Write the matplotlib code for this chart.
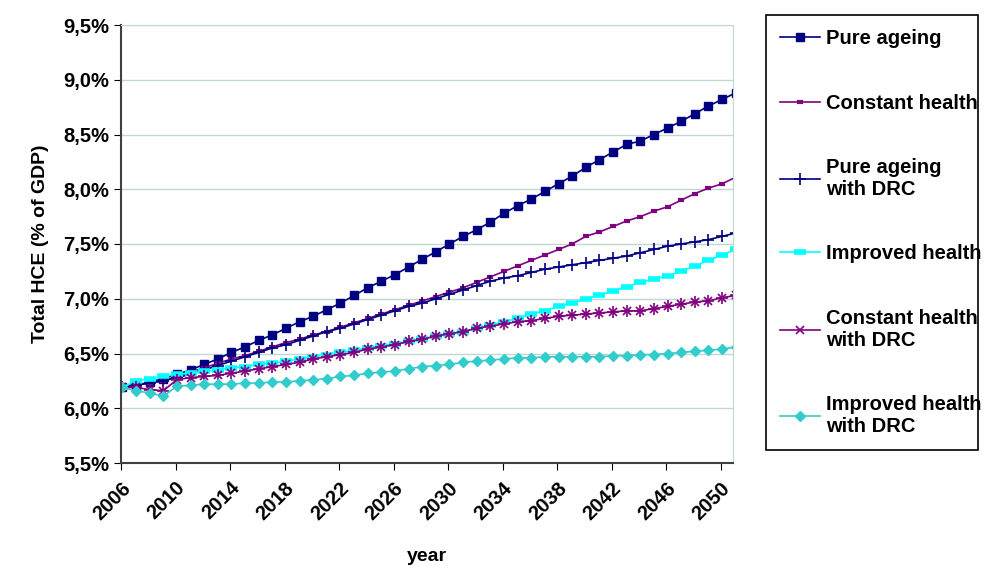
import matplotlib.pyplot as plt
import numpy as np
from matplotlib.ticker import FuncFormatter

plt.rcParams["font.family"] = ["Liberation Sans", "DejaVu Sans"]

years = list(range(2006, 2052))

pure_ageing = [6.19, 6.21, 6.24, 6.27, 6.31, 6.35, 6.40, 6.45, 6.51, 6.56, 6.62, 6.67, 6.73, 6.79, 6.84, 6.90,
               6.96, 7.03, 7.10, 7.16, 7.22, 7.29, 7.36, 7.43, 7.50, 7.57, 7.63, 7.70, 7.78, 7.85, 7.91, 7.98,
               8.05, 8.12, 8.20, 8.27, 8.34, 8.41, 8.44, 8.50, 8.56, 8.62, 8.69, 8.76, 8.82, 8.88]
constant_health = [6.19, 6.21, 6.23, 6.25, 6.29, 6.33, 6.37, 6.41, 6.45, 6.48, 6.52, 6.56, 6.60, 6.63, 6.67,
                   6.70, 6.74, 6.78, 6.82, 6.86, 6.90, 6.94, 6.98, 7.02, 7.06, 7.10, 7.15, 7.20, 7.25, 7.30,
                   7.35, 7.40, 7.45, 7.50, 7.57, 7.61, 7.66, 7.71, 7.75, 7.80, 7.84, 7.90, 7.96, 8.01, 8.05, 8.11]
pure_ageing_drc = [6.19, 6.21, 6.23, 6.25, 6.28, 6.31, 6.35, 6.39, 6.43, 6.47, 6.51, 6.55, 6.58, 6.62, 6.66,
                   6.70, 6.73, 6.77, 6.81, 6.85, 6.89, 6.93, 6.96, 7.00, 7.04, 7.08, 7.12, 7.16, 7.19, 7.21,
                   7.24, 7.27, 7.29, 7.31, 7.33, 7.35, 7.37, 7.39, 7.42, 7.45, 7.48, 7.50, 7.52, 7.54, 7.57, 7.60]
improved_health = [6.19, 6.25, 6.27, 6.29, 6.31, 6.32, 6.34, 6.35, 6.37, 6.38, 6.40, 6.41, 6.43, 6.45, 6.47,
                   6.49, 6.51, 6.53, 6.55, 6.57, 6.59, 6.61, 6.63, 6.66, 6.68, 6.70, 6.73, 6.76, 6.79, 6.82,
                   6.86, 6.89, 6.93, 6.96, 7.00, 7.03, 7.07, 7.11, 7.15, 7.18, 7.21, 7.25, 7.30, 7.35, 7.40, 7.45]
constant_health_drc = [6.19, 6.19, 6.17, 6.16, 6.26, 6.28, 6.29, 6.30, 6.32, 6.34, 6.36, 6.38, 6.40, 6.42,
                       6.45, 6.47, 6.49, 6.51, 6.54, 6.56, 6.58, 6.61, 6.63, 6.66, 6.68, 6.70, 6.73, 6.75,
                       6.77, 6.79, 6.80, 6.82, 6.84, 6.85, 6.86, 6.87, 6.88, 6.89, 6.89, 6.91, 6.93, 6.95,
                       6.97, 6.98, 7.01, 7.03]
improved_health_drc = [6.19, 6.16, 6.14, 6.11, 6.20, 6.21, 6.22, 6.22, 6.22, 6.23, 6.23, 6.24, 6.24, 6.25,
                       6.26, 6.27, 6.29, 6.30, 6.32, 6.33, 6.34, 6.36, 6.38, 6.39, 6.40, 6.42, 6.43, 6.44,
                       6.45, 6.46, 6.46, 6.47, 6.47, 6.47, 6.47, 6.47, 6.48, 6.48, 6.49, 6.49, 6.50, 6.51,
                       6.52, 6.53, 6.54, 6.56]

series = [
    ("Pure ageing", pure_ageing, dict(color="#000080", marker="s", ms=6)),
    ("Constant health", constant_health, dict(color="#800080", marker="_", ms=5, mew=3)),
    ("Pure ageing\nwith DRC", pure_ageing_drc, dict(color="#000080", marker="+", ms=8, mew=1.2)),
    ("Improved health", improved_health, dict(color="#00FFFF", marker="_", ms=8, mew=4)),
    ("Constant health\nwith DRC", constant_health_drc, dict(color="#800080", marker="x", ms=6, mew=1.2)),
    ("Improved health\nwith DRC", improved_health_drc, dict(color="#33CCCC", marker="D", ms=5.5)),
]

fig = plt.figure(figsize=(9.91, 5.66), dpi=100)
ax = fig.add_axes([121 / 991, 103 / 566, 612 / 991, 438 / 566])

x = np.array(years) + 0.1
for label, vals, style in series:
    if style["marker"] == "x":
        ax.plot(x, vals, lw=1.2, label=label, color=style["color"], marker="x", ms=6, mew=1.2)
        ax.plot(x, vals, lw=0, color=style["color"], marker="+", ms=8, mew=1.2)
    else:
        ax.plot(x, vals, lw=1.2, label=label, **style)

ax.set_xlim(2006, 2050.9)
ax.set_ylim(5.5, 9.5)
ax.set_xticks(range(2006, 2051, 4))
ax.set_yticks(np.arange(5.5, 9.51, 0.5))
ax.yaxis.set_major_formatter(FuncFormatter(lambda v, p: f"{v:.1f}%".replace(".", ",")))
ax.grid(axis="y", color="#C0D8D0", lw=1)
ax.set_axisbelow(True)
for s in ["top", "right"]:
    ax.spines[s].set_color("#C0D8D0")
for s in ["left", "bottom"]:
    ax.spines[s].set_color("#404040")
    ax.spines[s].set_linewidth(1.5)
ax.tick_params(axis="x", labelrotation=45, labelsize=14.5, length=5, pad=6)
ax.tick_params(axis="y", labelsize=14.5, length=5)
for t in ax.get_xticklabels():
    t.set_fontweight("bold")
    t.set_ha("right")
    t.set_rotation_mode("anchor")
for t in ax.get_yticklabels():
    t.set_fontweight("bold")
ax.set_xlabel("year", fontsize=14, fontweight="bold", labelpad=18)
ax.set_ylabel("Total HCE (% of GDP)", fontsize=14, fontweight="bold", labelpad=10)

leg = fig.legend(loc="upper left", bbox_to_anchor=(766 / 991, 1 - 21 / 566, 212 / 991, 0.01),
                 mode="expand", fancybox=False, edgecolor="black",
                 prop=dict(size=14.5, weight="bold"), labelspacing=2.25,
                 handlelength=2.0, handletextpad=0.3, borderpad=0.7, borderaxespad=0.0,
                 framealpha=1)
leg.get_frame().set_linewidth(1.2)

fig.savefig("out.png", dpi=100)
